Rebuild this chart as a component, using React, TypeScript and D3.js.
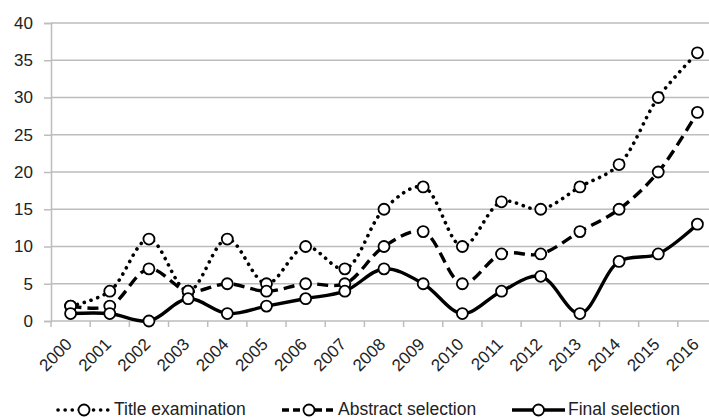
import React, { useEffect, useRef } from 'react';
import * as d3 from 'd3';

const years = ['2000', '2001', '2002', '2003', '2004', '2005', '2006', '2007', '2008',
  '2009', '2010', '2011', '2012', '2013', '2014', '2015', '2016'];
const titleExamination = [2, 4, 11, 4, 11, 5, 10, 7, 15, 18, 10, 16, 15, 18, 21, 30, 36];
const abstractSelection = [2, 2, 7, 4, 5, 4, 5, 5, 10, 12, 5, 9, 9, 12, 15, 20, 28];
const finalSelection = [1, 1, 0, 3, 1, 2, 3, 4, 7, 5, 1, 4, 6, 1, 8, 9, 13];
const yTicks = [0, 5, 10, 15, 20, 25, 30, 35, 40];

const seriesList = [
  { name: 'Title examination', values: titleExamination, dash: '0.1,7', cap: 'round', width: 3.6 },
  { name: 'Abstract selection', values: abstractSelection, dash: '11,6', cap: 'butt', width: 3.4 },
  { name: 'Final selection', values: finalSelection, dash: null, cap: 'butt', width: 3.4 },
];

export default function App() {
  const ref = useRef<HTMLDivElement>(null);

  useEffect(() => {
    const width = 709;
    const height = 419;
    const margin = { top: 23, left: 51, bottom: 98 };
    const font = '"Liberation Sans", Arial, sans-serif';
    const grid = '#bdbdbd';

    d3.select(ref.current).selectAll('*').remove();

    const svg = d3.select(ref.current)
      .append('svg')
      .attr('width', width)
      .attr('height', height)
      .style('display', 'block')
      .style('font-family', font);

    // plot runs a bit past the right edge, as in the cropped original
    const x = d3.scaleBand()
      .domain(years)
      .range([margin.left, 717]);

    const y = d3.scaleLinear()
      .domain([0, 40])
      .range([height - margin.bottom, margin.top]);

    // gridlines
    svg.append('g')
      .selectAll('line')
      .data(yTicks.filter(t => t > 0))
      .enter()
      .append('line')
      .attr('x1', margin.left)
      .attr('x2', width)
      .attr('y1', d => y(d))
      .attr('y2', d => y(d))
      .attr('stroke', grid)
      .attr('stroke-width', 1.5);

    // y axis
    const yAxis = svg.append('g')
      .attr('transform', `translate(${margin.left},0)`)
      .call(d3.axisLeft(y).tickValues(yTicks).tickSize(7).tickPadding(11))
      .call(g => g.select('.domain').attr('stroke', grid).attr('stroke-width', 1.5))
      .call(g => g.selectAll('.tick line').attr('stroke', grid).attr('stroke-width', 1.5));
    yAxis.selectAll('text')
      .style('font-family', font)
      .style('font-size', '17px')
      .attr('fill', '#222');

    // x axis
    const x0 = y(0);
    svg.append('line')
      .attr('x1', margin.left)
      .attr('x2', width)
      .attr('y1', x0)
      .attr('y2', x0)
      .attr('stroke', grid)
      .attr('stroke-width', 1.5);

    svg.append('g')
      .selectAll('line')
      .data(years)
      .enter()
      .append('line')
      .attr('x1', d => x(d)!)
      .attr('x2', d => x(d)!)
      .attr('y1', x0)
      .attr('y2', x0 + 6)
      .attr('stroke', grid)
      .attr('stroke-width', 1.5);

    svg.append('g')
      .selectAll('text')
      .data(years)
      .enter()
      .append('text')
      .attr('transform', d => `translate(${x(d)! + x.bandwidth() / 2 - 6},${x0 + 16}) rotate(-45)`)
      .attr('text-anchor', 'end')
      .attr('dy', '0.7em')
      .attr('font-size', 17)
      .attr('fill', '#222')
      .text(d => d);

    const cx = (i: number) => x(years[i])! + x.bandwidth() / 2;

    const line = d3.line<number>()
      .x((_, i) => cx(i))
      .y(d => y(d))
      .curve(d3.curveCatmullRom.alpha(0.5));

    seriesList.forEach(s => {
      const path = svg.append('path')
        .attr('d', line(s.values))
        .attr('fill', 'none')
        .attr('stroke', '#000')
        .attr('stroke-width', s.width)
        .attr('stroke-linecap', s.cap);
      if (s.dash) path.attr('stroke-dasharray', s.dash);
    });

    seriesList.forEach(s => {
      svg.append('g')
        .selectAll('circle')
        .data(s.values)
        .enter()
        .append('circle')
        .attr('cx', (_, i) => cx(i))
        .attr('cy', d => y(d))
        .attr('r', 5.5)
        .attr('fill', '#fff')
        .attr('stroke', '#000')
        .attr('stroke-width', 1.8);
    });

    // legend
    const legendY = 409;
    const legendItems = [
      { x1: 58, x2: 110, tx: 114 },
      { x1: 282, x2: 336, tx: 338 },
      { x1: 512, x2: 565, tx: 568 },
    ];
    seriesList.forEach((s, i) => {
      const it = legendItems[i];
      const g = svg.append('g');
      const l = g.append('line')
        .attr('x1', it.x1)
        .attr('x2', it.x2)
        .attr('y1', legendY + 1)
        .attr('y2', legendY + 1)
        .attr('stroke', '#000')
        .attr('stroke-width', s.width)
        .attr('stroke-linecap', s.cap);
      if (s.dash) l.attr('stroke-dasharray', s.dash === '11,6' ? '7,4' : s.dash);
      g.append('circle')
        .attr('cx', (it.x1 + it.x2) / 2)
        .attr('cy', legendY + 1)
        .attr('r', 5.5)
        .attr('fill', '#fff')
        .attr('stroke', '#000')
        .attr('stroke-width', 1.8);
      g.append('text')
        .attr('x', it.tx)
        .attr('y', legendY)
        .attr('dy', '0.35em')
        .attr('font-size', 17.5)
        .attr('fill', '#222')
        .text(s.name);
    });
  }, []);

  return (
    <div ref={ref} style={{ position: 'absolute', left: 0, top: 0, width: 709, height: 419, overflow: 'hidden' }} />
  );
}
